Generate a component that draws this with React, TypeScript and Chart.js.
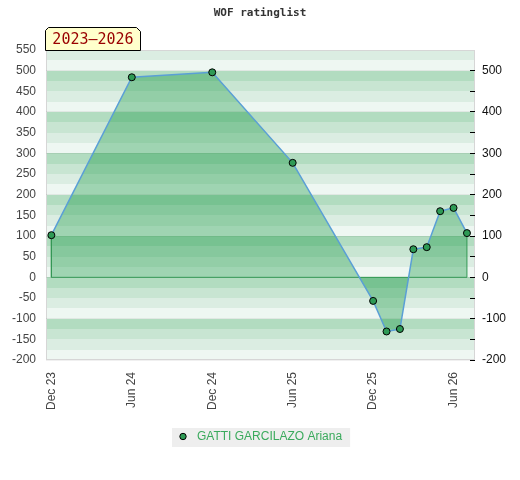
import React, { useEffect, useRef } from "react";
import { Chart, registerables } from "chart.js";

Chart.register(...registerables);

const chartTitle = "WOF ratinglist";
const periodLabel = "2023–2026";
const playerName = "GATTI GARCILAZO Ariana";

// month index counted from Dec 2023
const monthIndex = [0, 6, 12, 18, 24, 25, 26, 27, 28, 29, 30, 31];
const ratingValues = [102, 484, 496, 277, -57, -131, -125, 68, 73, 160, 168, 107];

const xTickPositions = [0, 6, 12, 18, 24, 30];
const xTickLabels = ["Dec 23", "Jun 24", "Dec 24", "Jun 25", "Dec 25", "Jun 26"];

const yMin = -200;
const yMax = 550;
const xMin = -0.4;
const xMax = 31.6;

const bandColors = ["#eef7f2", "#dbede2", "#c8e5d2", "#b2dcc0"];
const FONT = "'Liberation Sans', Arial, sans-serif";

const decorPlugin = {
  id: "decor",
  beforeDraw(chart: any) {
    const { ctx, chartArea: a, scales } = chart;
    const y = scales.y;
    ctx.save();
    for (let v = yMin; v < yMax; v += 25) {
      const q = (((v / 25) % 4) + 4) % 4;
      const top = Math.round(y.getPixelForValue(v + 25));
      const bot = Math.round(y.getPixelForValue(v));
      ctx.fillStyle = bandColors[q];
      ctx.fillRect(a.left, top, a.right - a.left, bot - top);
    }
    ctx.strokeStyle = "#d6d6d6";
    ctx.lineWidth = 1;
    ctx.strokeRect(Math.round(a.left) + 0.5, Math.round(a.top) + 0.5, a.right - a.left - 1, a.bottom - a.top - 1);
    ctx.restore();
  },
  afterDraw(chart: any) {
    const { ctx, width } = chart;
    ctx.save();
    // title
    ctx.fillStyle = "#333";
    ctx.font = "bold 11px 'DejaVu Sans Mono', monospace";
    ctx.textAlign = "center";
    ctx.textBaseline = "middle";
    ctx.fillText(chartTitle, width / 2, 13);

    // period box
    const L = 45.5, R = 140.5, T = 27.5, B = 50.5;
    ctx.beginPath();
    ctx.moveTo(L, B);
    ctx.lineTo(L, T + 3);
    ctx.lineTo(L + 3, T);
    ctx.lineTo(R - 4, T);
    ctx.lineTo(R, T + 4);
    ctx.lineTo(R, B);
    ctx.closePath();
    ctx.fillStyle = "#ffffcc";
    ctx.fill();
    ctx.strokeStyle = "#000";
    ctx.lineWidth = 1;
    ctx.stroke();
    ctx.fillStyle = "#990000";
    ctx.font = "15px 'DejaVu Sans Mono', monospace";
    ctx.textAlign = "center";
    ctx.textBaseline = "middle";
    ctx.fillText(periodLabel, (L + R) / 2, 40);

    // legend
    ctx.font = "12px " + FONT;
    const tw = ctx.measureText(playerName).width;
    const total = 25 + tw + 8;
    const lx = Math.round(width / 2 + 1 - total / 2);
    const ly = 428;
    ctx.fillStyle = "#eeeeee";
    ctx.fillRect(lx, ly, total, 19);
    ctx.beginPath();
    ctx.arc(lx + 11, ly + 8.5, 3.2, 0, Math.PI * 2);
    ctx.fillStyle = "#2e9a55";
    ctx.fill();
    ctx.strokeStyle = "#000";
    ctx.stroke();
    ctx.fillStyle = "#3aaa5c";
    ctx.textAlign = "left";
    ctx.textBaseline = "middle";
    ctx.fillText(playerName, lx + 25, ly + 9);
    ctx.restore();
  },
};

export default function App() {
  const ref = useRef<HTMLCanvasElement>(null);

  useEffect(() => {
    if (!ref.current) return;
    const points = monthIndex.map((m, i) => ({ x: m, y: ratingValues[i] }));
    const first = points[0];
    const last = points[points.length - 1];
    const outline = [
      { x: first.x, y: first.y },
      { x: first.x, y: 0 },
      { x: last.x, y: 0 },
      { x: last.x, y: last.y },
    ];
    const chart = new Chart(ref.current, {
      type: "line",
      data: {
        datasets: [
          {
            label: playerName,
            data: points,
            borderColor: "#5a9fd6",
            borderWidth: 1.5,
            backgroundColor: "rgba(0,142,48,0.33)",
            fill: "origin",
            pointRadius: 3.5,
            pointBackgroundColor: "#2e9a55",
            pointBorderColor: "#000",
            pointBorderWidth: 1,
            tension: 0,
          },
          {
            label: "outline",
            data: outline,
            borderColor: "#3d9a5c",
            borderWidth: 1,
            pointRadius: 0,
            fill: false,
            tension: 0,
          },
        ],
      },
      options: {
        animation: false,
        responsive: false,
        layout: { padding: { top: 50, bottom: 60, left: 0, right: 0 } },
        plugins: {
          legend: { display: false },
          title: { display: false },
          tooltip: { enabled: false },
        },
        scales: {
          x: {
            type: "linear",
            min: xMin,
            max: xMax,
            afterBuildTicks: (s: any) => {
              s.ticks = xTickPositions.map((v) => ({ value: v }));
            },
            afterFit: (s: any) => {
              s.height = 60;
            },
            ticks: {
              autoSkip: false,
              minRotation: 90,
              maxRotation: 90,
              padding: 12,
              color: "#444",
              font: { family: FONT, size: 12 },
              callback: (v: any) => {
                const i = xTickPositions.indexOf(Number(v));
                return i >= 0 ? xTickLabels[i] : "";
              },
            },
            grid: { display: false, drawTicks: false },
            border: { display: false },
          },
          y: {
            position: "left",
            min: yMin,
            max: yMax,
            afterFit: (s: any) => {
              s.width = 46;
            },
            ticks: {
              stepSize: 50,
              padding: 10,
              color: "#444",
              font: { family: FONT, size: 12 },
            },
            grid: {
              drawTicks: false,
              color: (c: any) => (c.tick && c.tick.value % 100 === 0 ? "rgba(0,0,0,0.06)" : "rgba(0,0,0,0)"),
            },
            border: { display: false },
          },
          y2: {
            position: "right",
            min: yMin,
            max: yMax,
            afterBuildTicks: (s: any) => {
              s.ticks = s.ticks.filter((t: any) => t.value < yMax);
            },
            afterFit: (s: any) => {
              s.width = 45;
            },
            ticks: {
              stepSize: 50,
              padding: 12,
              color: "#111",
              font: { family: FONT, size: 12 },
              callback: (v: any) => (Number(v) % 100 === 0 ? String(v) : ""),
            },
            grid: {
              drawOnChartArea: false,
              drawTicks: true,
              tickLength: -5,
              color: "#000",
            },
            border: { display: false },
          },
        },
      },
      plugins: [decorPlugin],
    });
    return () => chart.destroy();
  }, []);

  return (
    <div style={{ position: "absolute", left: 0, top: 0, width: 520, height: 480 }}>
      <canvas ref={ref} width={520} height={480} style={{ display: "block" }} />
    </div>
  );
}
